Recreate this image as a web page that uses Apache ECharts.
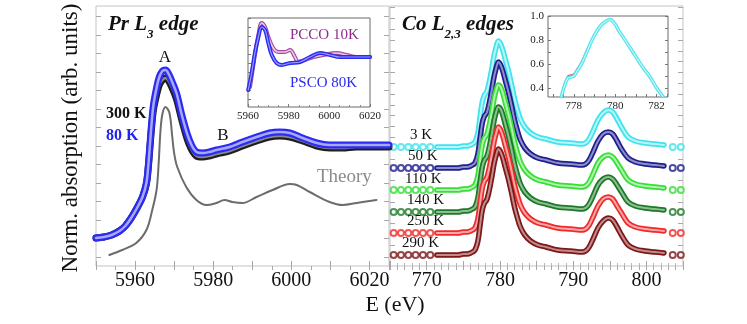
<!DOCTYPE html>
<html><head><meta charset="utf-8">
<script src="https://cdn.jsdelivr.net/npm/echarts@6/dist/echarts.min.js"></script>
<style>html,body{margin:0;padding:0;background:#fff}#c{width:747px;height:324px}</style>
</head><body><div id="c"></div>
<script>
// ---------- Pr L3 edge (left panel) ----------
const prE = [5950, 5952, 5954, 5956, 5957.5, 5959, 5960.5, 5961.9, 5962.9, 5963.4, 5963.8, 5964.2, 5964.7, 5965.5, 5966.2, 5967.0, 5967.8, 5968.6, 5969.5, 5970.6, 5972.1, 5973.9, 5975.7, 5977.3, 5979.0, 5980.8, 5984.2, 5987.5, 5991.1, 5994.4, 5997.0, 5999.6, 6002.9, 6006.5, 6009.8, 6013.0, 6016.7, 6020.0, 6025.0];
const pr80K = [28, 29, 31, 35, 40, 48, 58, 69, 83, 101, 121, 141, 161, 178, 189, 195, 196, 192, 184, 173, 149, 126, 114, 113, 114, 116, 119, 124, 129, 133, 134, 133, 128, 123, 121, 121, 121, 121, 121];
const pr300K = [28, 29, 31, 35, 40, 48, 58, 69, 82, 99, 118, 137, 156, 171, 181, 186, 188, 185, 178, 167, 144, 121, 110, 109, 110, 112, 115, 120, 125, 129, 130, 129, 125, 120, 118, 118, 119, 119, 119];
const theoryE = [5953.4, 5956.7, 5960.3, 5962.9, 5964.4, 5965.5, 5966.0, 5966.5, 5967.0, 5967.8, 5968.8, 5969.5, 5970.0, 5970.8, 5973.1, 5975.7, 5978.3, 5980.8, 5982.9, 5984.9, 5987.5, 5991.1, 5995.2, 5999.6, 6001.4, 6004.7, 6009.8, 6013.2, 6016.7, 6021.8];
const theoryVals = [11, 16, 23, 36, 56, 76, 100, 135, 152, 159, 153, 130, 113, 99, 79, 66, 61, 63, 66, 64, 63, 69, 76, 82, 81, 74, 64, 61, 63, 66];
// inset (left)
const pscoE = [5960.1, 5961.8, 5963.4, 5965.1, 5966.7, 5968.4, 5970.0, 5971.7, 5974.1, 5976.6, 5980.7, 5985.6, 5990.5, 5995.4, 6000.3, 6005.2, 6010.2, 6015.9, 6020];
const psco80K = [17, 34, 54, 70, 80, 77, 64, 52, 44, 42, 44, 45, 50, 54, 52, 50, 50, 50, 50];
const pccoE = [5961.0, 5963.4, 5965.1, 5966.7, 5968.4, 5970.0, 5972.4, 5974.9, 5978.2, 5980.7, 5983.1, 5984.7, 5988.0, 5992.1, 5997.0, 6003.6, 6008.5, 6013.5, 6020];
const pcco10K = [20, 52, 72, 84, 80, 70, 59, 55, 55, 57, 50, 45, 47, 50, 52, 54, 52, 50, 50];

// ---------- Co L2,3 edges (right panel) ----------
const coE = [771.4, 772.2, 773.0, 773.7, 774.3, 775.0, 775.5, 776.0, 776.6, 777.0, 777.3, 777.6, 777.9, 778.2, 778.5, 778.9, 779.2, 779.5, 779.8, 780.1, 780.4, 780.8, 781.2, 781.6, 782.0, 782.4, 782.8, 783.4, 784.2, 785.2, 786.3, 787.9, 789.7, 791.3, 792.0, 792.6, 793.4, 794.1, 794.8, 795.4, 796.0, 796.6, 797.5, 798.5, 799.8, 801.2, 802.4];
const co3K   = [119,119,119,119,119,120,120,121,124,133,149,164,171,174,182,197,210,219,225,222,216,205,194,181,167,156,147,139,133,129,127,124,123,122,125,133,146,153,156,154,147,139,129,125,123,122,121];
const co50K  = [98,98,98,98,98,99,99,100,103,112,128,143,150,153,161,176,189,198,204,201,195,184,173,160,146,135,126,118,112,108,106,103,102,101,104,112,125,132,134,132,125,117,108,104,102,101,100];
const co110K = [76,76,76,76,76,77,77,78,81,90,106,121,128,131,139,154,167,176,181,179,173,162,151,138,124,113,104,96,90,86,84,81,80,79,82,90,103,109,111,109,103,96,86,82,80,79,78];
const co140K = [54,54,54,54,54,55,55,56,59,68,84,99,106,109,117,132,145,154,159,157,151,140,129,116,102,91,82,74,68,64,62,59,58,57,60,68,81,87,89,87,81,74,64,60,58,57,56];
const co250K = [33,33,33,33,33,34,34,35,38,47,63,78,85,88,96,111,124,133,139,136,130,119,108,95,81,70,61,53,47,43,41,38,37,36,39,47,60,67,69,67,60,53,43,39,37,36,35];
const co290K = [11,11,11,11,11,12,12,13,16,25,41,56,63,66,74,89,102,111,117,114,108,97,86,73,59,48,39,31,25,21,19,16,15,14,17,25,38,45,48,46,39,31,21,17,15,14,13];
const coSparseE = [765.5, 766.5, 767.5, 768.5, 769.5, 770.5, 803.6, 804.7];
const coBaselines = [119, 98, 76, 54, 33, 11];
const coLabels = ['3 K', '50 K', '110 K', '140 K', '250 K', '290 K'];
// inset (right)
const insE = [777.4, 777.55, 777.7, 777.85, 778.0, 778.15, 778.3, 778.45, 778.6, 778.8, 779.0, 779.25, 779.5, 779.75, 780.0, 780.2, 780.4, 780.7, 781.0, 781.3, 781.65, 782.0, 782.3];
const insCyan = [0.33, 0.42, 0.48, 0.49, 0.50, 0.54, 0.58, 0.63, 0.69, 0.77, 0.84, 0.91, 0.95, 0.97, 0.93, 0.87, 0.82, 0.74, 0.66, 0.58, 0.50, 0.40, 0.33];
const insRed = [0.34, 0.44, 0.50, 0.51, 0.52, 0.56, 0.60, 0.65, 0.71, 0.78, 0.85, 0.91, 0.95, 0.97, 0.93, 0.87, 0.82, 0.74, 0.66, 0.58, 0.50, 0.40, 0.33];
const insGray = [0.35, 0.44, 0.48, 0.50, 0.51, 0.55, 0.59, 0.64, 0.70, 0.78, 0.85, 0.92, 0.955, 0.975, 0.935, 0.875, 0.825, 0.745, 0.665, 0.585, 0.505, 0.405, 0.335];

const F = '"Liberation Serif","Times New Roman",serif';
const coColors = ['#3fe3ee', '#1f1f8f', '#36de36', '#1d7a27', '#f02a2a', '#7e1717'];
const coCores  = ['#b8f5f8', '#8f8fc8', '#b0f2b0', '#8ebd93', '#f8a8a8', '#c08b8b'];
const coSeries = [co3K, co50K, co110K, co140K, co250K, co290K];

function pairs(xs, ys) { return xs.map((x, i) => [x, ys[i]]); }
function seq(a, step, b) { const r = []; for (let v = a; v <= b + 1e-9; v += step) r.push(+v.toFixed(4)); return r; }

const tickMain = { show: true, inside: true, length: 5, lineStyle: { color: '#a8a8a8' } };
const tickInset = { show: true, inside: true, length: 3, lineStyle: { color: '#777' } };
const noLabel = { show: false };
const noLine = { show: false };

const xAxes = [
  { gridIndex: 0, type: 'value', position: 'bottom', min: 5950, max: 6025, interval: 10,
    axisLine: noLine, splitLine: { show: false }, axisTick: tickMain,
    axisLabel: { fontFamily: F, fontSize: 20, color: '#111', margin: 5, formatter: v => (v % 20 === 0 ? String(v) : '') } },
  { gridIndex: 0, type: 'value', position: 'top', min: 5950, max: 6025, interval: 5,
    axisLine: noLine, splitLine: { show: false }, axisTick: Object.assign({}, tickMain, { length: 4 }), axisLabel: noLabel },
  { gridIndex: 1, type: 'value', position: 'bottom', min: 765, max: 805, interval: 5,
    axisLine: noLine, splitLine: { show: false }, axisTick: tickMain,
    minorTick: { show: true, splitNumber: 5, length: 3, lineStyle: { color: '#b8b8b8' } },
    axisLabel: { fontFamily: F, fontSize: 20, color: '#111', margin: 5, formatter: v => (v % 10 === 0 ? String(v) : '') } },
  { gridIndex: 1, type: 'value', position: 'top', min: 765, max: 805, interval: 1,
    axisLine: noLine, splitLine: { show: false }, axisTick: Object.assign({}, tickMain, { length: 4 }), axisLabel: noLabel },
  { gridIndex: 2, type: 'value', position: 'bottom', min: 5960, max: 6020, interval: 20,
    axisLine: noLine, splitLine: { show: false }, axisTick: tickInset,
    minorTick: { show: true, splitNumber: 4, length: 2, lineStyle: { color: '#888' } },
    axisLabel: { fontFamily: F, fontSize: 11, color: '#222', margin: 4, formatter: v => String(v) } },
  { gridIndex: 3, type: 'value', position: 'bottom', min: 776.75, max: 782.55,
    axisLine: noLine, splitLine: { show: false },
    axisTick: Object.assign({}, tickInset, { customValues: seq(777, 0.5, 782.5) }),
    axisLabel: { fontFamily: F, fontSize: 11, color: '#222', margin: 4, customValues: [778, 780, 782], formatter: v => String(v) } }
];
const yMainTicksL = seq(9, 18.5, 260);
const yMainTicksR = seq(10, 10.8, 260);
const yAxes = [
  { gridIndex: 0, type: 'value', position: 'left', min: 0, max: 260, axisLine: noLine, splitLine: { show: false },
    axisTick: Object.assign({}, tickMain, { customValues: yMainTicksL }), axisLabel: noLabel },
  { gridIndex: 0, type: 'value', position: 'right', min: 0, max: 260, axisLine: noLine, splitLine: { show: false },
    axisTick: Object.assign({}, tickMain, { customValues: yMainTicksL }), axisLabel: noLabel },
  { gridIndex: 1, type: 'value', position: 'left', min: 0, max: 260, axisLine: noLine, splitLine: { show: false },
    axisTick: Object.assign({}, tickMain, { customValues: yMainTicksR }), axisLabel: noLabel },
  { gridIndex: 1, type: 'value', position: 'right', min: 0, max: 260, axisLine: noLine, splitLine: { show: false },
    axisTick: Object.assign({}, tickMain, { customValues: yMainTicksR }), axisLabel: noLabel },
  { gridIndex: 2, type: 'value', position: 'left', min: 0, max: 89, axisLine: noLine, splitLine: { show: false },
    axisTick: Object.assign({}, tickInset, { customValues: seq(8, 9, 89) }), axisLabel: noLabel },
  { gridIndex: 3, type: 'value', position: 'left', min: 0.325, max: 1.0, axisLine: noLine, splitLine: { show: false },
    axisTick: Object.assign({}, tickInset, { customValues: seq(0.4, 0.1, 1.0) }),
    axisLabel: { fontFamily: F, fontSize: 11, color: '#222', margin: 4, customValues: [0.4, 0.6, 0.8, 1.0], formatter: v => v.toFixed(1) } },
  { gridIndex: 3, type: 'value', position: 'right', min: 0.325, max: 1.0, axisLine: noLine, splitLine: { show: false },
    axisTick: Object.assign({}, tickInset, { customValues: seq(0.4, 0.1, 1.0) }), axisLabel: noLabel }
];

const series = [];
function line(xi, yi, data, color, width, opacity) {
  series.push({
    type: 'line', xAxisIndex: xi, yAxisIndex: yi, data: data, smooth: 0.35,
    lineStyle: { color: color, width: width, opacity: opacity == null ? 1 : opacity, cap: 'round', join: 'round' },
    symbol: 'none', showSymbol: false, animation: false, silent: true
  });
}
// band made of an outer coloured stroke and a pale core, like overlapping open circles
function band(xi, yi, data, color, core, wOut, wIn) {
  line(xi, yi, data, color, wOut);
  line(xi, yi, data, core, wIn, 1);
}
// left main
line(0, 0, pairs(theoryE, theoryVals), '#6c6c6c', 2);
band(0, 0, pairs(prE, pr300K), '#1e1e1e', '#8a8a8a', 7, 2.5);
band(0, 0, pairs(prE, pr80K), '#2b2bf2', '#a8a8ff', 7, 2.5);
// left inset
band(4, 4, pairs(pccoE, pcco10K), '#a24ea2', '#f0c8e8', 4, 1.6);
band(4, 4, pairs(pscoE, psco80K), '#2b2bf2', '#9a9aff', 4, 1.2);
// right main
coSeries.forEach((arr, k) => {
  band(2, 2, pairs(coE, arr), coColors[k], coCores[k], 5.5, 2);
  series.push({
    type: 'scatter', xAxisIndex: 2, yAxisIndex: 2, symbol: 'emptyCircle', symbolSize: 6,
    itemStyle: { color: coColors[k], borderColor: coColors[k], borderWidth: 1 },
    data: coSparseE.map(e => [e, coBaselines[k]]), animation: false, silent: true
  });
});
// right inset
line(5, 5, pairs(insE, insGray), '#6e6e6e', 1.2);
line(5, 5, pairs(insE, insRed), '#e05a5a', 1.2);
band(5, 5, pairs(insE, insCyan), '#4fe3ec', '#c8f6f8', 3.5, 1.2);

function txt(x, y, text, font, fill, extra) {
  return Object.assign({ type: 'text', x: x, y: y, silent: true, z: 100,
    style: Object.assign({ text: text, font: font, fill: fill, textAlign: 'left', textVerticalAlign: 'middle' }, (extra && extra.style) || {}) },
    extra && extra.rot ? { rotation: extra.rot } : {});
}
const graphics = [
  { type: 'text', x: 108, y: 25, silent: true, z: 100, style: {
      text: '{b|Pr L}{s|3}{b| edge}', textVerticalAlign: 'middle', textAlign: 'left',
      rich: { b: { fontFamily: F, fontStyle: 'italic', fontWeight: 'bold', fontSize: 21, lineHeight: 32, fill: '#111' },
              s: { fontFamily: F, fontStyle: 'italic', fontWeight: 'bold', fontSize: 13, lineHeight: 14, verticalAlign: 'bottom', fill: '#111' } } } },
  { type: 'text', x: 402, y: 25, silent: true, z: 100, style: {
      text: '{b|Co L}{s|2,3}{b| edges}', textVerticalAlign: 'middle', textAlign: 'left',
      rich: { b: { fontFamily: F, fontStyle: 'italic', fontWeight: 'bold', fontSize: 21, lineHeight: 32, fill: '#111' },
              s: { fontFamily: F, fontStyle: 'italic', fontWeight: 'bold', fontSize: 13, lineHeight: 14, verticalAlign: 'bottom', fill: '#111' } } } },
  txt(165, 58, 'A', '17px ' + F, '#111', { style: { textAlign: 'center' } }),
  txt(223, 136, 'B', '17px ' + F, '#111', { style: { textAlign: 'center' } }),
  txt(106, 114, '300 K', 'bold 16px ' + F, '#111'),
  txt(106, 136, '80 K', 'bold 16px ' + F, '#2323ee'),
  txt(317, 177, 'Theory', '19px ' + F, '#8a8a8a'),
  txt(290, 35, 'PCCO 10K', '15px ' + F, '#8e2c8e'),
  txt(290, 83, 'PSCO 80K', '15px ' + F, '#2a2af0'),
  txt(71, 138, 'Norm. absorption (arb. units)', '23px ' + F, '#111', { rot: Math.PI / 2, style: { textAlign: 'center' } }),
  txt(395, 305, 'E (eV)', '22px ' + F, '#111', { style: { textAlign: 'center' } })
];
const coLabelPos = [[410, 135], [408, 156], [405, 179], [407, 200], [407, 221], [402, 243]];
coLabels.forEach((t, k) => graphics.push(txt(coLabelPos[k][0], coLabelPos[k][1], t, '15px ' + F, '#111')));

const chart = echarts.init(document.getElementById('c'), null, { renderer: 'canvas' });
chart.setOption({
  animation: false,
  backgroundColor: '#fff',
  grid: [
    { left: 96, top: 6, width: 293, height: 260, show: true, borderColor: '#c4c4c4', borderWidth: 1, backgroundColor: 'transparent' },
    { left: 390, top: 6, width: 293, height: 260, show: true, borderColor: '#c4c4c4', borderWidth: 1, backgroundColor: 'transparent' },
    { left: 248, top: 18, width: 122, height: 89, show: true, borderColor: '#6a6a6a', borderWidth: 1, backgroundColor: '#fff' },
    { left: 548, top: 16, width: 120, height: 81, show: true, borderColor: '#6a6a6a', borderWidth: 1, backgroundColor: '#fff' }
  ],
  xAxis: xAxes,
  yAxis: yAxes,
  series: series,
  graphic: graphics
});
</script></body></html>
